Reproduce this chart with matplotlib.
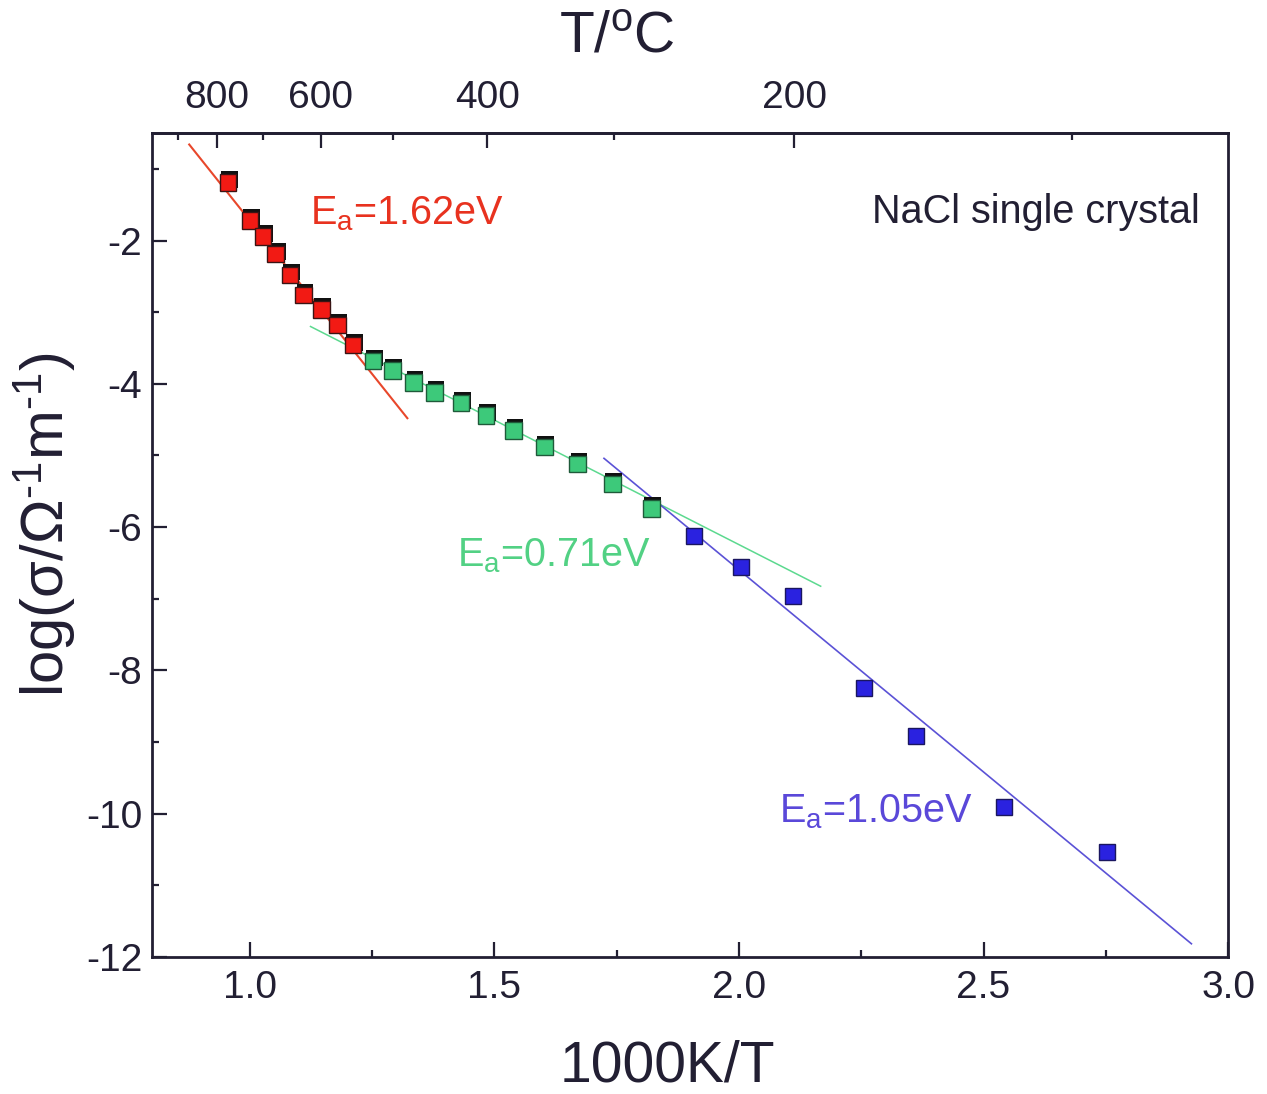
import matplotlib
matplotlib.use("Agg")
import matplotlib.pyplot as plt
import matplotlib.patheffects as pe
from matplotlib.ticker import MultipleLocator, FixedLocator, NullFormatter

plt.rcParams["font.family"] = ["Liberation Sans", "DejaVu Sans"]
plt.rcParams["mathtext.fontset"] = "custom"
plt.rcParams["mathtext.rm"] = "Liberation Sans"
plt.rcParams["mathtext.it"] = "Liberation Sans"
plt.rcParams["mathtext.default"] = "regular"
plt.rcParams["axes.unicode_minus"] = False

# measured points, 1000K/T vs log(sigma)
red_x = [0.955, 1.000, 1.027, 1.053, 1.082, 1.110, 1.146, 1.179, 1.211]
red_y = [-1.19, -1.72, -1.94, -2.19, -2.48, -2.76, -2.96, -3.18, -3.46]
green_x = [1.252, 1.291, 1.335, 1.378, 1.432, 1.483, 1.539, 1.602, 1.670, 1.741, 1.821]
green_y = [-3.68, -3.81, -3.98, -4.12, -4.27, -4.44, -4.65, -4.88, -5.12, -5.40, -5.74]
blue_x = [1.908, 2.005, 2.111, 2.255, 2.361, 2.541, 2.752]
blue_y = [-6.12, -6.56, -6.96, -8.24, -8.91, -9.90, -10.54]

# Arrhenius fit lines (end points)
red_fit_x = [0.876, 1.322]
red_fit_y = [-0.66, -4.48]
green_fit_x = [1.124, 2.167]
green_fit_y = [-3.20, -6.825]
blue_fit_x = [1.724, 2.925]
blue_fit_y = [-5.04, -11.815]

top_major_T = [800, 600, 400, 200]
top_minor_T = [900, 700, 500, 300, 100]

INK = "#221f33"

fig = plt.figure(figsize=(12.67, 10.94), dpi=100, facecolor="white")
ax = fig.add_axes([0.1200, 0.1252, 0.8493, 0.7532])

shadow = [pe.SimplePatchShadow(offset=(1.0, 2.0), shadow_rgbFace="#111111", alpha=1.0), pe.Normal()]

ax.plot(red_fit_x, red_fit_y, color="#e8472b", linewidth=1.5, zorder=2)
ax.plot(green_fit_x, green_fit_y, color="#5cd98f", linewidth=1.1, zorder=2)
ax.plot(blue_fit_x, blue_fit_y, color="#5b52d6", linewidth=1.2, zorder=2)

ax.plot(red_x, red_y, "s", color="#f21a14", markersize=12, markeredgecolor="#3a1414",
        markeredgewidth=1.0, path_effects=shadow, zorder=3)
ax.plot(green_x, green_y, "s", color="#3dc97a", markersize=12, markeredgecolor="#1f5a3a",
        markeredgewidth=1.0, path_effects=shadow, zorder=3)
ax.plot(blue_x, blue_y, "s", color="#2a22e0", markersize=12, markeredgecolor="#1a1660",
        markeredgewidth=1.0, zorder=3)

ax.text(1.122, -1.78, "E$_{a}$=1.62eV", color="#e8321f", fontsize=28.5, va="baseline")
ax.text(1.4245, -6.55, "E$_{a}$=0.71eV", color="#52d184", fontsize=28.5, va="baseline")
ax.text(2.082, -10.12, "E$_{a}$=1.05eV", color="#5a48d9", fontsize=28.5, va="baseline")
ax.text(0.974, 0.891, "NaCl single crystal", color=INK, fontsize=28.5,
        ha="right", va="baseline", transform=ax.transAxes)

ax.set_xlim(0.8, 3.0)
ax.set_ylim(-12, -0.5)
ax.xaxis.set_major_locator(MultipleLocator(0.5))
ax.xaxis.set_minor_locator(MultipleLocator(0.25))
ax.yaxis.set_major_locator(MultipleLocator(2))
ax.yaxis.set_minor_locator(MultipleLocator(1))
ax.xaxis.set_major_formatter(matplotlib.ticker.FormatStrFormatter("%.1f"))
ax.yaxis.set_major_formatter(matplotlib.ticker.FormatStrFormatter("%d"))

ax.tick_params(which="both", direction="in", top=False, right=False, color=INK,
               labelcolor=INK, labelsize=28, width=1.6)
ax.tick_params(which="major", length=11)
ax.tick_params(which="minor", length=5)
ax.tick_params(axis="x", pad=9)
ax.tick_params(axis="y", pad=7)
for s in ax.spines.values():
    s.set_linewidth(2.0)
    s.set_color(INK)

ax.set_xlabel("1000K/T", fontsize=41, color=INK)
ax.xaxis.set_label_coords(0.479, -0.100)
ax.set_ylabel("log(σ/Ω$^{\u20101}$m$^{\u20101}$)", fontsize=43, color=INK)
ax.yaxis.set_label_coords(-0.069, 0.524)


def to_celsius(x):
    return 1000.0 / x - 273.15


def to_inv_t(t):
    return 1000.0 / (t + 273.15)


top = ax.secondary_xaxis("top", functions=(to_celsius, to_inv_t))
top.xaxis.set_major_locator(FixedLocator(top_major_T))
top.xaxis.set_minor_locator(FixedLocator(top_minor_T))
top.xaxis.set_minor_formatter(NullFormatter())
top.xaxis.set_major_formatter(matplotlib.ticker.FormatStrFormatter("%d"))
top.tick_params(which="both", direction="in", color=INK, labelcolor=INK,
                labelsize=28, width=1.6, pad=12)
top.tick_params(which="major", length=11)
top.tick_params(which="minor", length=5)
top.spines["top"].set_linewidth(2.0)
top.spines["top"].set_color(INK)

fig.text(617 / 1267, 1 - 37 / 1094, "T/$^{o}$C", fontsize=41, color=INK,
         ha="center", va="center")

fig.savefig("out.png", dpi=100, facecolor="white")
